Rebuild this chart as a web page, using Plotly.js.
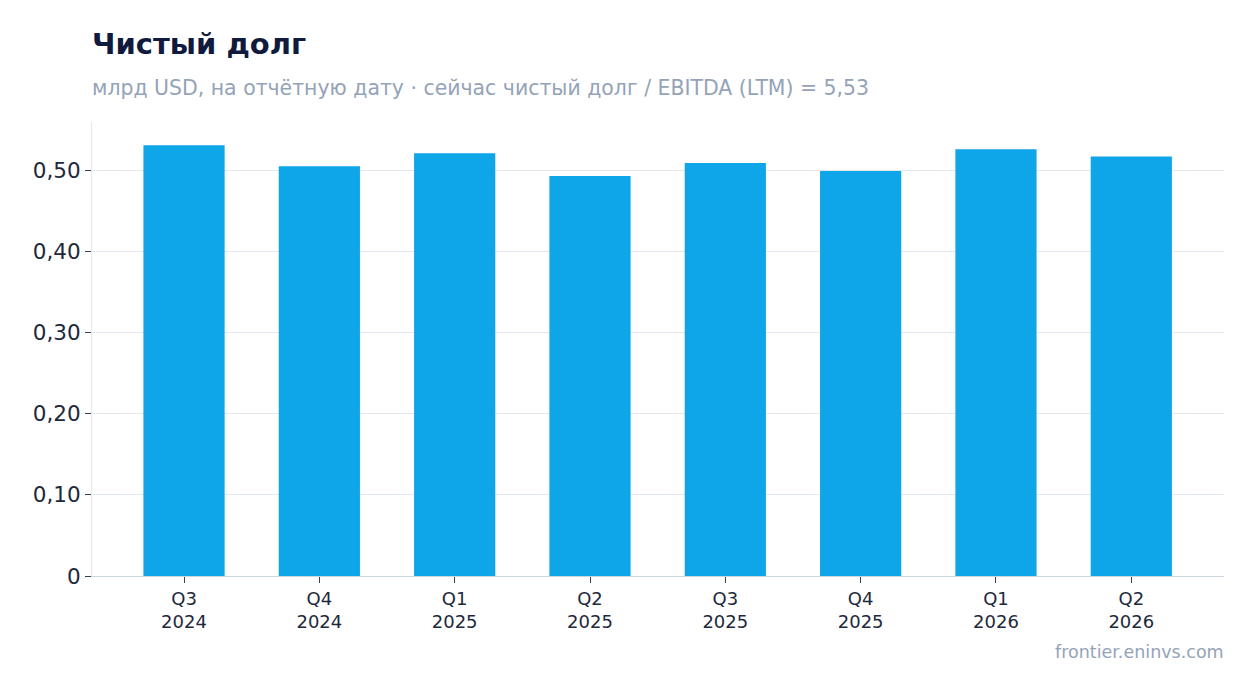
<!DOCTYPE html>
<html>
<head>
<meta charset="utf-8">
<script src="https://cdn.plot.ly/plotly-3.0.1.min.js"></script>
<style>
html,body{margin:0;padding:0;background:#fff;}
#chart{width:1254px;height:693px;}
</style>
</head>
<body>
<div id="chart"></div>
<script>
const quarters = ["Q3<br>2024","Q4<br>2024","Q1<br>2025","Q2<br>2025","Q3<br>2025","Q4<br>2025","Q1<br>2026","Q2<br>2026"];
const netDebt = [0.531, 0.505, 0.521, 0.493, 0.509, 0.499, 0.526, 0.517];
const yTickVals = [0, 0.1, 0.2, 0.3, 0.4, 0.5];
const yTickText = ["0", "0,10", "0,20", "0,30", "0,40", "0,50"];
const titleText = "Чистый долг";
const subtitleText = "млрд USD, на отчётную дату · сейчас чистый долг / EBITDA (LTM) = 5,53";
const sourceText = "frontier.eninvs.com";

const FONT = "DejaVu Sans, sans-serif";

const trace = {
  type: "bar",
  x: quarters,
  y: netDebt,
  marker: {color: "#0ea5e9"},
  hoverinfo: "x+y"
};

const layout = {
  width: 1254,
  height: 693,
  paper_bgcolor: "#ffffff",
  plot_bgcolor: "#ffffff",
  font: {family: FONT, color: "#1e293b"},
  margin: {l: 92, r: 30, t: 122, b: 117},
  bargap: 0.4,
  showlegend: false,
  xaxis: {
    type: "category",
    range: [-0.68, 7.685],
    ticks: "outside",
    ticklen: 6,
    tickcolor: "#334155",
    tickfont: {size: 18, color: "#1e293b", family: FONT},
    showline: true,
    linecolor: "#cbd5e1",
    linewidth: 1,
    showgrid: false,
    zeroline: false
  },
  yaxis: {
    range: [0, 0.5595],
    tickvals: yTickVals,
    ticktext: yTickText,
    ticks: "outside",
    ticklen: 6,
    tickcolor: "#334155",
    tickfont: {size: 21.5, color: "#1e293b", family: FONT},
    showgrid: true,
    gridcolor: "#e2e8f0",
    gridwidth: 1,
    showline: true,
    linecolor: "#e2e8f0",
    linewidth: 1,
    zeroline: false
  },
  annotations: [
    {text: "<b>" + titleText + "</b>", xref: "paper", yref: "paper", x: 0, y: 1, xanchor: "left", yanchor: "middle",
     xshift: -2, yshift: 122 - 44, showarrow: false, font: {size: 29, color: "#0f1a3d", family: FONT}},
    {text: subtitleText, xref: "paper", yref: "paper", x: 0, y: 1, xanchor: "left", yanchor: "middle",
     xshift: -2, yshift: 122 - 88, showarrow: false, font: {size: 20.45, color: "#94a3b8", family: FONT}},
    {text: sourceText, xref: "paper", yref: "paper", x: 1, y: 0, xanchor: "right", yanchor: "middle",
     xshift: 2, yshift: -(652 - 576), showarrow: false, font: {size: 17.5, color: "#94a3b8", family: FONT}}
  ]
};

Plotly.newPlot("chart", [trace], layout, {displayModeBar: false});
</script>
</body>
</html>
